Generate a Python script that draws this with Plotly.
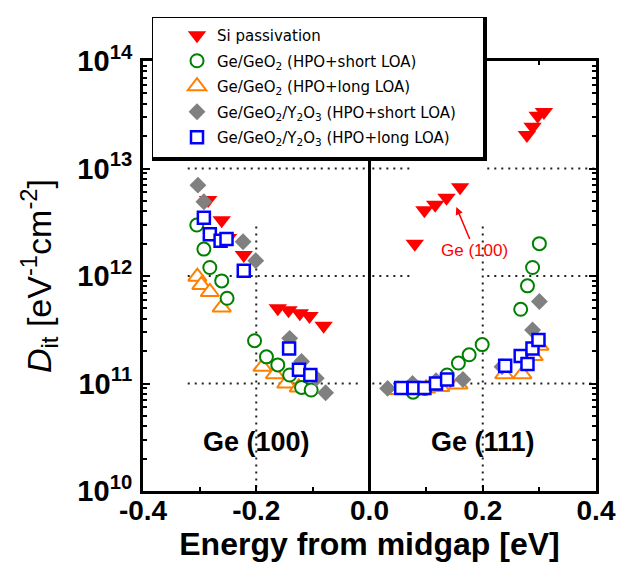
import math
import plotly.graph_objects as go

# ---------------- data ----------------
si_x = [-0.285, -0.261, -0.250, -0.222, -0.162, -0.143, -0.123, -0.106, -0.081,
        0.080, 0.097, 0.116, 0.136, 0.160, 0.278, 0.288, 0.297, 0.308]
si_y = [5.1e12, 3.3e12, 2.26e12, 1.57e12, 5.0e11, 4.8e11, 4.5e11, 4.25e11, 3.45e11,
        2.0e12, 4.1e12, 4.6e12, 5.35e12, 6.7e12, 2.05e13, 2.45e13, 3.1e13, 3.35e13]

geo_short_x = [-0.305, -0.2925, -0.282, -0.261, -0.2515, -0.203, -0.182, -0.162, -0.141,
               -0.120, -0.103, 0.077, 0.098, 0.118, 0.137, 0.157, 0.176, 0.199,
               0.267, 0.279, 0.288, 0.300]
geo_short_y = [2.98e12, 1.78e12, 1.2e12, 9.0e11, 6.2e11, 2.5e11, 1.77e11, 1.49e11, 1.2e11,
               9.2e10, 8.7e10, 8.3e10, 9.0e10, 1.0e11, 1.2e11, 1.55e11, 1.85e11, 2.3e11,
               4.9e11, 8.1e11, 1.2e12, 2.0e12]

geo_long_x = [-0.304, -0.297, -0.282, -0.261, -0.189, -0.167, -0.147, -0.125,
              0.050, 0.075, 0.100, 0.125, 0.157, 0.238, 0.270, 0.290, 0.300]
geo_long_y = [9.85e11, 8.25e11, 7.1e11, 5.1e11, 1.43e11, 1.22e11, 1.0e11, 9.2e10,
              8.7e10, 8.8e10, 9.0e10, 9.3e10, 9.8e10, 1.22e11, 1.22e11, 1.8e11, 2.25e11]

y2o3_short_x = [-0.303, -0.2925, -0.2233, -0.2009, -0.141, -0.120, -0.094, -0.0775,
                0.032, 0.076, 0.1175, 0.165, 0.234, 0.288, 0.300]
y2o3_short_y = [7.0e12, 4.9e12, 2.08e12, 1.39e12, 2.63e11, 1.6e11, 1.12e11, 8.2e10,
                9.0e10, 1.0e11, 1.06e11, 1.09e11, 1.43e11, 3.15e11, 5.8e11]

y2o3_long_x = [-0.2925, -0.282, -0.263, -0.2525, -0.222, -0.142, -0.1246, -0.1045,
               0.056, 0.078, 0.097, 0.1175, 0.137, 0.2396, 0.267, 0.279, 0.2878, 0.2984]
y2o3_long_y = [3.49e12, 2.44e12, 2.13e12, 2.21e12, 1.12e12, 2.12e11, 1.34e11, 1.2e11,
               9.1e10, 9.1e10, 9.1e10, 1.0e11, 1.09e11, 1.46e11, 1.8e11, 1.52e11, 2.12e11, 2.54e11]

series_names = [
    "Si passivation",
    "Ge/GeO<sub>2</sub> (HPO+short LOA)",
    "Ge/GeO<sub>2</sub> (HPO+long LOA)",
    "Ge/GeO<sub>2</sub>/Y<sub>2</sub>O<sub>3</sub> (HPO+short LOA)",
    "Ge/GeO<sub>2</sub>/Y<sub>2</sub>O<sub>3</sub> (HPO+long LOA)",
]

x_tickvals = [-0.4, -0.2, 0.0, 0.2, 0.4]
x_ticktext = ["-0.4", "-0.2", "0.0", "0.2", "0.4"]
x_minorvals = [-0.3, -0.1, 0.1, 0.3]
y_tickvals = [1e10, 1e11, 1e12, 1e13, 1e14]
y_ticktext = ["10<sup>10</sup>", "10<sup>11</sup>", "10<sup>12</sup>", "10<sup>13</sup>", "10<sup>14</sup>"]

# dotted guide segments: ((x0, x1), (y0, y1))
guide_segments = [
    ((-0.321, -0.008), (1e13, 1e13)),
    ((-0.321, -0.008), (1e12, 1e12)),
    ((-0.321, -0.015), (1e11, 1e11)),
    ((0.005, 0.075), (1e13, 1e13)),
    ((0.208, 0.398), (1e13, 1e13)),
    ((0.005, 0.075), (1e12, 1e12)),
    ((0.208, 0.398), (1e12, 1e12)),
    ((0.005, 0.398), (1e11, 1e11)),
    ((-0.2, -0.2), (2.88e12, 1e10)),
    ((0.2, 0.2), (2.88e12, 1e10)),
]

FONT = "Liberation Sans, Arial, sans-serif"

fig = go.Figure()

for (xs, ys) in guide_segments:
    fig.add_trace(go.Scatter(
        x=list(xs), y=list(ys), mode="lines", showlegend=False, hoverinfo="skip",
        line=dict(color="#222222", width=2, dash="2px,5px")))

# drawing order: red, orange, green, gray, blue ; legend order via legendrank
fig.add_trace(go.Scatter(
    x=si_x, y=si_y, mode="markers", name=series_names[0], legendrank=1, legendgroup="a",
    marker=dict(symbol="triangle-down", size=16, color="#FF0000", line=dict(width=0))))
fig.add_trace(go.Scatter(
    x=geo_long_x, y=geo_long_y, mode="markers", name=series_names[2], legendrank=3, legendgroup="c",
    marker=dict(symbol="triangle-up", size=16, color="white", line=dict(color="#FF8000", width=2))))
fig.add_trace(go.Scatter(
    x=geo_short_x, y=geo_short_y, mode="markers", name=series_names[1], legendrank=2, legendgroup="b",
    marker=dict(symbol="circle", size=13, color="white", line=dict(color="#008000", width=2))))
fig.add_trace(go.Scatter(
    x=y2o3_short_x, y=y2o3_short_y, mode="markers", name=series_names[3], legendrank=4, legendgroup="d",
    marker=dict(symbol="diamond", size=13, color="#808080", line=dict(width=0))))
fig.add_trace(go.Scatter(
    x=y2o3_long_x, y=y2o3_long_y, mode="markers", name=series_names[4], legendrank=5, legendgroup="e",
    marker=dict(symbol="square", size=12, color="white", line=dict(color="#0000FF", width=2.5))))

# page offset of the figure (default body margin of the html page)
OFF = 8
L, R, T, B = 143 - OFF, 44 + OFF, 61 - OFF, 89 + OFF
W, H = 640, 580
pw, ph = W - L - R, H - T - B


def px_x(p):
    """page pixel x -> paper coordinate"""
    return (p - OFF - L) / pw


def px_y(p):
    """page pixel y -> paper coordinate"""
    return (H - B - (p - OFF)) / ph


shapes = [
    dict(type="line", xref="x", yref="paper", x0=0, x1=0, y0=0, y1=1,
         line=dict(color="black", width=3), layer="above"),
    dict(type="rect", xref="paper", yref="paper",
         x0=px_x(152), x1=px_x(487), y0=px_y(161), y1=px_y(17),
         fillcolor="black", line=dict(width=0), layer="above"),
    dict(type="rect", xref="paper", yref="paper",
         x0=px_x(153), x1=px_x(483), y0=px_y(157), y1=px_y(18),
         fillcolor="white", line=dict(width=0), layer="above"),
]

annotations = [
    dict(x=-0.2, y=math.log10(2.86e10), xref="x", yref="y", text="<b>Ge (100)</b>",
         showarrow=False, font=dict(family=FONT, size=27, color="black")),
    dict(x=0.2, y=math.log10(2.86e10), xref="x", yref="y", text="<b>Ge (111)</b>",
         showarrow=False, font=dict(family=FONT, size=27, color="black")),
    dict(x=0.1533, y=math.log10(4.38e12), xref="x", yref="y", text="Ge (100)",
         showarrow=True, ax=18, ay=43, arrowcolor="#FF0000", arrowhead=2, arrowwidth=1.5,
         arrowsize=1, font=dict(family=FONT, size=17, color="#FF0000")),
]

fig.update_layout(
    width=W, height=H,
    margin=dict(l=L, r=R, t=T, b=B, autoexpand=False),
    paper_bgcolor="white", plot_bgcolor="white",
    showlegend=True,
    legend=dict(
        x=px_x(177), y=px_y(19), xanchor="left", yanchor="top",
        bgcolor="rgba(0,0,0,0)", borderwidth=0,
        font=dict(family="DejaVu Sans, sans-serif", size=15, color="black"),
        tracegroupgap=3, itemsizing="trace",
    ),
    shapes=shapes,
    annotations=annotations,
)

fig.update_xaxes(
    automargin=False,
    range=[-0.4, 0.4], tickvals=x_tickvals, ticktext=x_ticktext,
    showgrid=False, zeroline=False,
    showline=True, linecolor="black", linewidth=3, mirror="ticks",
    ticks="inside", ticklen=6, tickwidth=2, tickcolor="black",
    minor=dict(tickvals=x_minorvals, ticks="inside", ticklen=4, tickwidth=2, tickcolor="black", showgrid=False),
    tickfont=dict(family=FONT, size=28, color="black", weight="bold"),
    ticklabelstandoff=-8,
    title=dict(text="<b>Energy from midgap [eV]</b>", font=dict(family=FONT, size=32, color="black"), standoff=6),
)

fig.update_yaxes(
    automargin=False,
    type="log", range=[10, 14], tickvals=y_tickvals, ticktext=y_ticktext,
    showgrid=False, zeroline=False,
    showline=True, linecolor="black", linewidth=3, mirror="ticks",
    ticks="inside", ticklen=7, tickwidth=2, tickcolor="black",
    minor=dict(dtick="D1", ticks="inside", ticklen=4, tickwidth=1.5, tickcolor="black", showgrid=False),
    tickfont=dict(family=FONT, size=29, color="black", weight="bold"),
    ticklabelstandoff=2,
    title=dict(text="<i>D</i><sub>it</sub> [eV<sup>-1</sup>cm<sup>-2</sup>]",
               font=dict(family=FONT, size=34, color="black"), standoff=16),
)

fig.write_html("out.html")
